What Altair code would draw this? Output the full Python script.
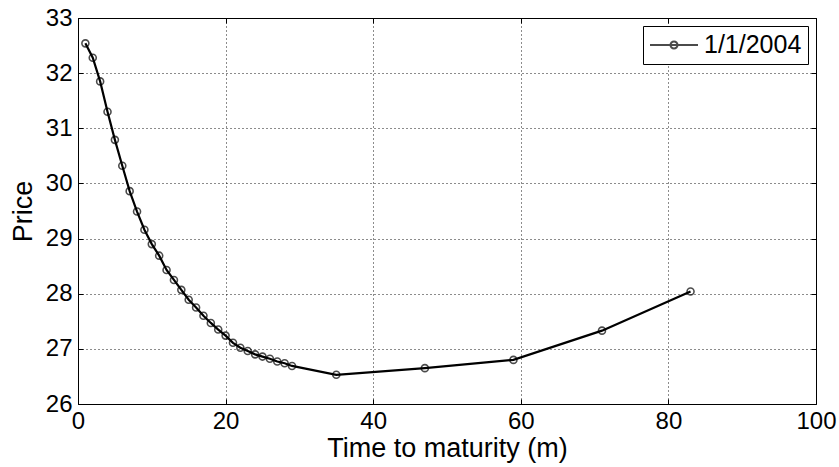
import altair as alt
import pandas as pd

series_name = "1/1/2004"
months = [1, 2, 3, 4, 5, 6, 7, 8, 9, 10, 11, 12, 13, 14, 15, 16, 17, 18, 19, 20,
          21, 22, 23, 24, 25, 26, 27, 28, 29, 35, 47, 59, 71, 83]
prices = [32.54, 32.28, 31.85, 31.30, 30.79, 30.32, 29.86, 29.49, 29.16, 28.90,
          28.69, 28.43, 28.25, 28.07, 27.89, 27.75, 27.60, 27.47, 27.35, 27.24,
          27.11, 27.02, 26.96, 26.90, 26.86, 26.82, 26.77, 26.74, 26.69,
          26.53, 26.65, 26.80, 27.33, 28.04]
x_ticks = [0, 20, 40, 60, 80, 100]
y_ticks = [26, 27, 28, 29, 30, 31, 32, 33]

df = pd.DataFrame({"m": months, "p": prices, "series": [series_name] * len(months)})

FONT = "Liberation Sans"
xs = alt.Scale(domain=[0, 100], nice=False, zero=False)
ys = alt.Scale(domain=[26, 33], nice=False, zero=False)
cs = alt.Scale(domain=[series_name], range=["black"])

r = 0.146
legend_path = (f"M-1,0L1,0M{r},0A{r},{r},0,1,1,-{r},0A{r},{r},0,1,1,{r},0")

legend = alt.Legend(
    title=None, orient="none", legendX=565, legendY=8,
    strokeColor="black", fillColor="white", padding=6,
    labelFont=FONT, labelFontSize=25, labelColor="black", labelOffset=5,
    symbolType=legend_path, symbolSize=2304, symbolStrokeColor="black",
    symbolStrokeWidth=2, symbolFillColor="transparent", clipHeight=26,
    labelLimit=300,
)

common_axis = dict(
    labelFont=FONT, labelFontSize=24, labelColor="black", labelFlush=False,
    tickColor="black", tickSize=5, offset=-5, domain=False,
    titleFont=FONT, titleFontSize=27, titleFontWeight="normal", titleColor="black",
    gridColor="black", gridDash=[1, 3], gridWidth=1, gridOpacity=0.9,
)

line = alt.Chart(df).mark_line(color="black", strokeWidth=2.2).encode(
    x=alt.X("m:Q", scale=xs, axis=alt.Axis(
        orient="bottom", values=x_ticks, grid=True, labelPadding=5,
        title="Time to maturity (m)", titlePadding=2, **common_axis)),
    y=alt.Y("p:Q", scale=ys, axis=alt.Axis(
        orient="left", values=y_ticks, grid=True, labelPadding=6,
        title="Price", titlePadding=8, **common_axis)),
    color=alt.Color("series:N", scale=cs, legend=legend),
)

pts = alt.Chart(df).mark_point(shape="circle", filled=False, size=49, strokeWidth=1.6).encode(
    x=alt.X("m:Q", scale=xs, axis=alt.Axis(
        orient="top", values=x_ticks, grid=False, labels=False, title=None,
        tickColor="black", tickSize=5, offset=-5, domain=False)),
    y=alt.Y("p:Q", scale=ys, axis=alt.Axis(
        orient="right", values=y_ticks, grid=False, labels=False, title=None,
        tickColor="black", tickSize=5, offset=-5, domain=False)),
    color=alt.Color("series:N", scale=cs, legend=legend),
)

chart = alt.layer(line, pts).resolve_axis(
    x="independent", y="independent"
).properties(
    width=738, height=386,
    autosize=alt.AutoSizeParams(type="none"),
    padding={"left": 78, "top": 18, "right": 23, "bottom": 63},
    background="white",
).configure_view(stroke="black", strokeWidth=1)

chart.save("out.html", embed_options={"renderer": "svg", "actions": False})
